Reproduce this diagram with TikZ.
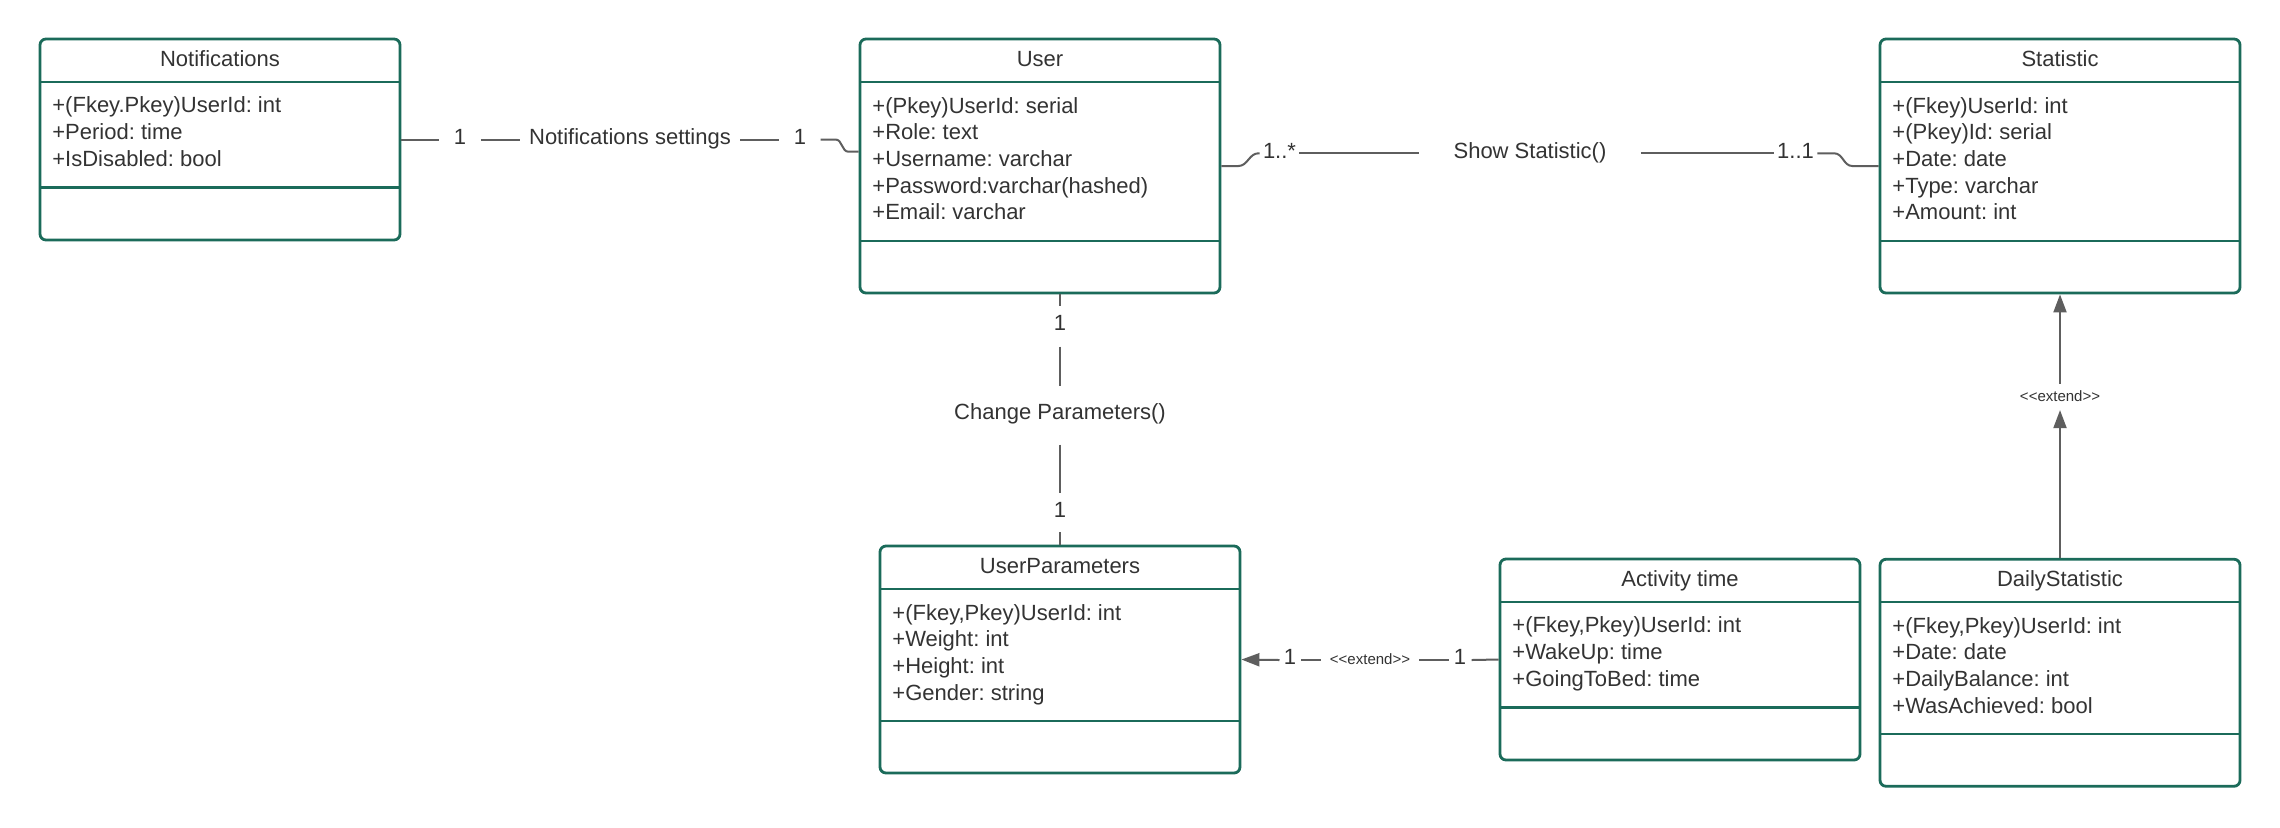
\documentclass[tikz,border=0pt]{standalone}
\usepackage{fontspec}
\setmainfont{Liberation Sans}
\usepackage{xcolor}
\usepackage{tikz}
\usetikzlibrary{calc}
\usetikzlibrary{arrows.meta}
\definecolor{C0}{HTML}{1B6B5A}
\definecolor{C1}{HTML}{5E5E5E}
\definecolor{C2}{HTML}{333333}
\newcommand{\clsfont}{\fontsize{11pt}{13.33pt}\selectfont}
\newcommand{\extfont}{\fontsize{7.5pt}{9pt}\selectfont}
\newcommand{\extendtxt}{\mbox{<}\mbox{<}extend\mbox{>}\mbox{>}}
\frenchspacing

\begin{document}
\begin{tikzpicture}[x=0.5pt,y=-0.5pt]
\tikzstyle{cls}=[draw=C0, line width=1.4pt, rounded corners=3pt, shape=rectangle, minimum width=180pt, fill=white]
\tikzstyle{clsline}=[draw=C0, line width=1.4pt]
\tikzstyle{clstitle}=[anchor=base, inner sep=0pt, font=\clsfont, text=C2]
\tikzstyle{clsattr}=[anchor=base west, align=left, inner sep=0pt, font=\clsfont, text=C2]
\tikzstyle{lbl}=[inner sep=0pt, text height=0.72em, text depth=0.25em, font=\clsfont, text=C2]
\tikzstyle{extlbl}=[lbl, font=\extfont]
\tikzstyle{assoc}=[draw=C1, line width=1pt]
\tikzstyle{ext}=[assoc, -{Triangle[length=9pt,width=6.5pt]}]
\useasboundingbox[fill=white] (0,0) rectangle (2280,827);
%
\node[cls, minimum height=100.5pt](notif) at (220,139.5){};
\draw[clsline] (40,82) -- (400,82);
\draw[clsline] (40,187.5) -- (400,187.5);
\node[clstitle](notiftitle) at (220,66){Notifications};
\node[clsattr](notifattr) at (52,166.3){+(Fkey.Pkey)UserId: int\\+Period: time\\+IsDisabled: bool};
%
\node[cls, minimum height=127pt](user) at (1040,166){};
\draw[clsline] (860,82) -- (1220,82);
\draw[clsline] (860,241) -- (1220,241);
\node[clstitle](usertitle) at (1040,66){User};
\node[clsattr](userattr) at (872,219.7){+(Pkey)UserId: serial\\+Role: text\\+Username: varchar\\+Password:varchar(hashed)\\+Email: varchar};
%
\node[cls, minimum height=127pt](stat) at (2060,166){};
\draw[clsline] (1880,82) -- (2240,82);
\draw[clsline] (1880,241) -- (2240,241);
\node[clstitle](stattitle) at (2060,66){Statistic};
\node[clsattr](statattr) at (1892,219.7){+(Fkey)UserId: int\\+(Pkey)Id: serial\\+Date: date\\+Type: varchar\\+Amount: int};
%
\node[cls, minimum height=113.5pt](upar) at (1060,659.5){};
\draw[clsline] (880,589) -- (1240,589);
\draw[clsline] (880,721) -- (1240,721);
\node[clstitle](upartitle) at (1060,573){UserParameters};
\node[clsattr](uparattr) at (892,700){+(Fkey,Pkey)UserId: int\\+Weight: int\\+Height: int\\+Gender: string};
%
\node[cls, minimum height=100.5pt](act) at (1680,659.5){};
\draw[clsline] (1500,602) -- (1860,602);
\draw[clsline] (1500,707.5) -- (1860,707.5);
\node[clstitle](acttitle) at (1680,586){Activity time};
\node[clsattr](actattr) at (1512,686.3){+(Fkey,Pkey)UserId: int\\+WakeUp: time\\+GoingToBed: time};
%
\node[cls, minimum height=113.5pt](dstat) at (2060,672.75){};
\draw[clsline] (1880,602) -- (2240,602);
\draw[clsline] (1880,734) -- (2240,734);
\node[clstitle](dstattitle) at (2060,586){DailyStatistic};
\node[clsattr](dstatattr) at (1892,713){+(Fkey,Pkey)UserId: int\\+Date: date\\+DailyBalance: int\\+WasAchieved: bool};
%
\node[lbl, inner xsep=7.2pt](nl1) at (460,139.5){1};
\node[lbl, inner xsep=4.5pt](nset) at (630,139.5){Notifications settings};
\node[lbl, inner xsep=7pt](nl2) at (800,139.5){1};
\node[lbl, inner xsep=1.5pt](many) at (1279.5,153.3){1..*};
\node[lbl, inner xsep=17pt](show) at (1530,153.3){Show Statistic()};
\node[lbl, inner xsep=1.5pt](one) at (1795.5,153.3){1..1};
\node[lbl, inner ysep=5.2pt](cp1) at (1060,326){1};
\node[lbl, inner ysep=9.7pt](cpl) at (1060,415){Change Parameters()};
\node[lbl, inner ysep=4.9pt](cp2) at (1060,512.5){1};
\node[lbl, inner xsep=2pt](ea1) at (1290,660){1};
\node[extlbl, inner xsep=4.5pt](ext1) at (1370,660){\extendtxt};
\node[lbl, inner xsep=2.5pt](eb1) at (1460,660){1};
\node[extlbl, inner ysep=1.5pt](ext2) at (2060,397){\extendtxt};
%
\draw[assoc] (notif.east) -- (nl1.west);
\draw[assoc] (nl1.east) -- (nset.west);
\draw[assoc] (nset.east) -- (nl2.west);
\draw[assoc] (nl2.east) -- ++(15,0) to[out=0,in=180] ++(13,12.2) -- ([yshift=7.15pt]user.west);
%
\draw[assoc] (user.east) -- ++(17,0) to[out=0,in=180] ++(20,-12.7) -- (many.west);
\draw[assoc] (many.east) -- (show.west);
\draw[assoc] (show.east) -- (one.west);
\draw[assoc] (one.east) -- ++(17,0) to[out=0,in=180] ++(18,12.7) -- (stat.west);
%
\draw[assoc] (cp1.north |- user.south) -- (cp1.north);
\draw[assoc] (cp1.south) -- (cpl.north);
\draw[assoc] (cpl.south) -- (cp2.north);
\draw[assoc] (cp2.south) -- (upar.north);
%
\draw[ext] (ea1.west) -- (upar.east);
\draw[assoc] (ext1.west) -- (ea1.east);
\draw[assoc] (eb1.west) -- (ext1.east);
\draw[assoc] (act.west) -- (eb1.east);
\draw[ext] (dstat.north) -- (ext2.south);
\draw[ext] (ext2.north) -- (stat.south);
%
\end{tikzpicture}
\end{document}
